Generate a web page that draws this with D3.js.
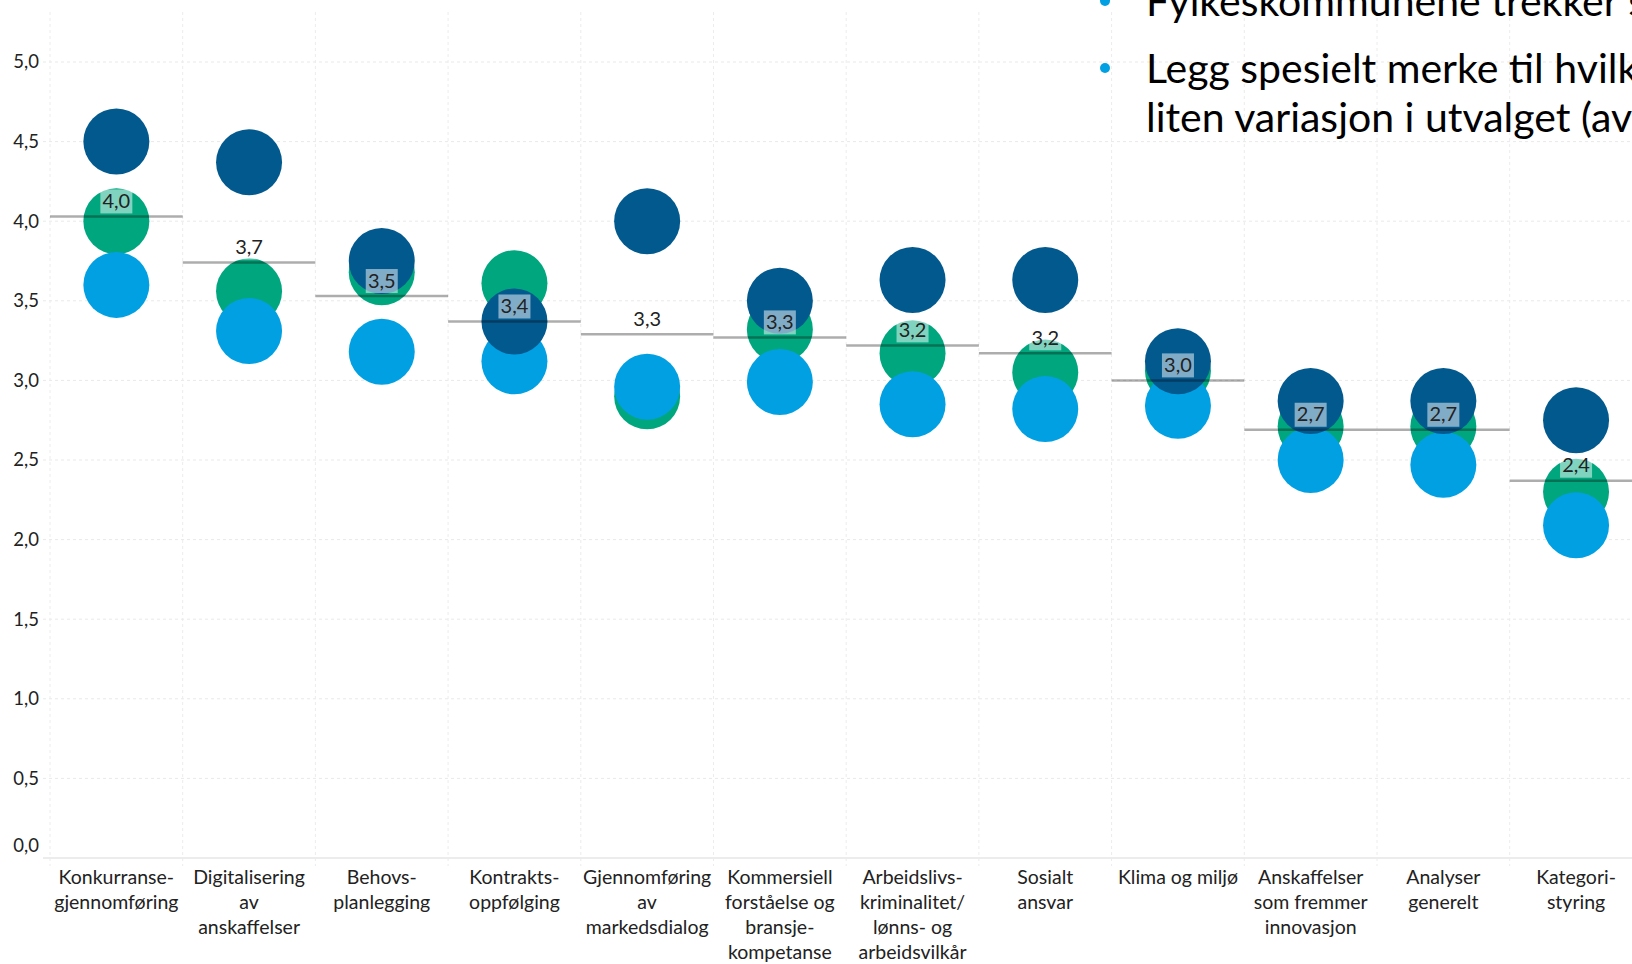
<!DOCTYPE html>
<html>
<head>
<meta charset="utf-8">
<script src="https://cdn.jsdelivr.net/npm/d3@7"></script>
<style>
  html, body { margin: 0; padding: 0; background: #fff; }
  svg { display: block; font-family: "Source Sans Pro", Lato, "Noto Sans", sans-serif; }
</style>
</head>
<body>
<svg id="chart" width="1632" height="964"></svg>
<script>
// Categories (one array of lines per label)
var categories = [
    ["Konkurranse-", "gjennomføring"],
    ["Digitalisering", "av", "anskaffelser"],
    ["Behovs-", "planlegging"],
    ["Kontrakts-", "oppfølging"],
    ["Gjennomføring", "av", "markedsdialog"],
    ["Kommersiell", "forståelse og", "bransje-", "kompetanse"],
    ["Arbeidslivs-", "kriminalitet/", "lønns- og", "arbeidsvilkår"],
    ["Sosialt", "ansvar"],
    ["Klima og miljø"],
    ["Anskaffelser", "som fremmer", "innovasjon"],
    ["Analyser", "generelt"],
    ["Kategori-", "styring"]
];

// Series values
var darkValues  = [4.50, 4.37, 3.75, 3.37, 4.00, 3.50, 3.63, 3.63, 3.12, 2.87, 2.87, 2.75];
var greenValues = [4.00, 3.56, 3.68, 3.61, 2.90, 3.32, 3.17, 3.05, 3.06, 2.71, 2.71, 2.30];
var lightValues = [3.60, 3.31, 3.18, 3.12, 2.96, 2.99, 2.85, 2.82, 2.84, 2.50, 2.47, 2.09];
var meanValues  = [4.03, 3.74, 3.53, 3.37, 3.29, 3.27, 3.22, 3.17, 3.00, 2.69, 2.69, 2.37];

// Axis ticks
var yTicks = [0, 0.5, 1, 1.5, 2, 2.5, 3, 3.5, 4, 4.5, 5];

// Text lines in the top right corner
var notes = [
    ["Fylkeskommunene trekker s"],
    ["Legg spesielt merke til hvilk", "liten variasjon i utvalget (av"]
];

var colors = { dark: "#02598e", green: "#00a77e", light: "#00a0e3" };

var svg = d3.select("#chart");
var keys = categories.map(function(c){ return c.join(" "); });

var x = d3.scaleBand().domain(keys).range([50, 50 + 12 * 132.7]);
var y = d3.scaleLinear().domain([0, 5]).range([858, 62]);
var plotTop = 12;

var fmt = function(v){ return d3.format(".1f")(v).replace(".", ","); };

// Horizontal grid
svg.append("g").selectAll("line")
    .data(yTicks)
    .enter().append("line")
    .attr("x1", 43).attr("x2", 1632)
    .attr("y1", function(d){ return y(d); })
    .attr("y2", function(d){ return y(d); })
    .attr("stroke", function(d){ return d === 0 ? "#e6e6e6" : "#e9e9e9"; })
    .attr("stroke-width", function(d){ return d === 0 ? 1.5 : 1; })
    .attr("stroke-dasharray", function(d){ return d === 0 ? null : "3,3"; });

// Column dividers
svg.append("g").selectAll("line")
    .data(keys)
    .enter().append("line")
    .attr("x1", function(d){ return x(d); })
    .attr("x2", function(d){ return x(d); })
    .attr("y1", plotTop).attr("y2", 866)
    .attr("stroke", "#ececec")
    .attr("stroke-dasharray", "3,3");

// Notes (partly cut off by the edge, as in the source)
var noteY = [[16], [83, 131.5]];
var noteG = svg.append("g");
notes.forEach(function(lines, i){
    noteG.append("circle")
        .attr("cx", 1105).attr("cy", noteY[i][0] - 15)
        .attr("r", 5).attr("fill", colors.light);
    lines.forEach(function(t, j){
        noteG.append("text")
            .attr("x", 1146).attr("y", noteY[i][j])
            .attr("font-size", 41)
            .attr("fill", "#000")
            .text(t);
    });
});

// Y axis
var yAxis = svg.append("g")
    .attr("transform", "translate(39,0)")
    .call(d3.axisLeft(y).tickValues(yTicks).tickSize(0).tickPadding(0).tickFormat(fmt))
    .attr("font-family", null)
    .attr("font-size", null);
yAxis.select(".domain").remove();
yAxis.selectAll("text")
    .attr("font-size", 18.5)
    .attr("fill", "#222")
    .attr("dy", function(d){ return d === 0 ? "-0.35em" : "0.32em"; });

// X axis with wrapped labels
var xAxis = svg.append("g")
    .attr("transform", "translate(0,858)")
    .call(d3.axisBottom(x).tickSize(0).tickFormat(""))
    .attr("font-family", null)
    .attr("font-size", null);
xAxis.select(".domain").remove();
xAxis.selectAll(".tick").each(function(d, i){
    var t = d3.select(this).append("text")
        .attr("text-anchor", "middle")
        .attr("font-size", 19.5)
        .attr("fill", "#222");
    categories[i].forEach(function(line, j){
        t.append("tspan").attr("x", 0).attr("y", 25.5 + j * 25.3).text(line);
    });
});

// Dots: green, then light, then dark on top
var series = [
    { key: "green", values: greenValues },
    { key: "light", values: lightValues },
    { key: "dark",  values: darkValues }
];
var cx = function(i){ return x(keys[i]) + x.bandwidth() / 2; };

series.forEach(function(s){
    svg.append("g").selectAll("circle")
        .data(s.values)
        .enter().append("circle")
        .attr("cx", function(d, i){ return cx(i); })
        .attr("cy", function(d){ return y(d); })
        .attr("r", 33)
        .attr("fill", colors[s.key]);
});

// Average lines
svg.append("g").selectAll("line")
    .data(meanValues)
    .enter().append("line")
    .attr("x1", function(d, i){ return x(keys[i]); })
    .attr("x2", function(d, i){ return x(keys[i]) + x.bandwidth(); })
    .attr("y1", function(d){ return y(d); })
    .attr("y2", function(d){ return y(d); })
    .attr("stroke", "#000")
    .attr("stroke-opacity", 0.32)
    .attr("stroke-width", 2.5);

// Average labels with half transparent box
var lab = svg.append("g").selectAll("g")
    .data(meanValues)
    .enter().append("g")
    .attr("transform", function(d, i){ return "translate(" + cx(i) + "," + y(d) + ")"; });
lab.append("rect")
    .attr("x", -16).attr("y", -27)
    .attr("width", 32).attr("height", 24)
    .attr("fill", "#fff").attr("fill-opacity", 0.5);
lab.append("text")
    .attr("text-anchor", "middle")
    .attr("y", -8.5)
    .attr("font-size", 20)
    .attr("fill", "#222")
    .text(fmt);
</script>
</body>
</html>
